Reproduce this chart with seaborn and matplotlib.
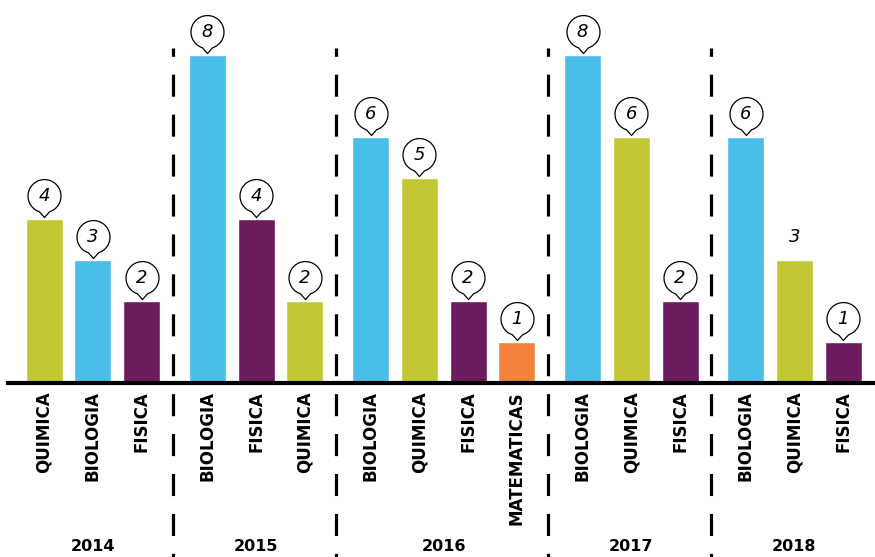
import numpy as np
import pandas as pd
import matplotlib
matplotlib.use('Agg')
import matplotlib.pyplot as plt
from matplotlib.path import Path
import seaborn as sns

# ---- data ----
years    = ['2014', '2015', '2016', '2017', '2018']
group    = [0, 0, 0, 1, 1, 1, 2, 2, 2, 2, 3, 3, 3, 4, 4, 4]
subjects = ['QUIMICA', 'BIOLOGIA', 'FISICA',
            'BIOLOGIA', 'FISICA', 'QUIMICA',
            'BIOLOGIA', 'QUIMICA', 'FISICA', 'MATEMATICAS',
            'BIOLOGIA', 'QUIMICA', 'FISICA',
            'BIOLOGIA', 'QUIMICA', 'FISICA']
values   = [4, 3, 2,
            8, 4, 2,
            6, 5, 2, 1,
            8, 6, 2,
            6, 3, 1]
bubble   = [True] * 14 + [False, True]   # 2018 QUIMICA has no bubble

palette = {'BIOLOGIA': '#48BEE8', 'QUIMICA': '#C1C833',
           'FISICA': '#6A1C5E', 'MATEMATICAS': '#F2833A'}

# ---- layout ----
gap = 0.345
pos = np.arange(len(values)) + np.array(group) * gap
df = pd.DataFrame({'pos': pos, 'subject': subjects, 'value': values})

sns.set_style('white')
plt.rcParams['font.family'] = ['DejaVu Sans']
plt.rcParams['text.color'] = 'black'
plt.rcParams['xtick.color'] = 'black'

W, H = 875, 557
fig = plt.figure(figsize=(W / 100, H / 100), dpi=100)
ax = fig.add_axes([8 / W, 1 - 383 / H, 1 - 8 / W, 383 / H])

sns.barplot(data=df, x='pos', y='value', hue='subject', palette=palette,
            native_scale=True, dodge=False, width=0.76, errorbar=None,
            legend=False, saturation=1, ax=ax)

ax.set_xlim(-0.74, pos[-1] + 0.65)
ax.set_ylim(0, 383 / 41)
ax.set_xlabel(''); ax.set_ylabel('')
ax.set_yticks([])
ax.set_xticks(pos)
ax.set_xticklabels(subjects, rotation=90, fontweight='bold', fontsize=12,
                   color='black')
ax.tick_params(axis='x', length=0, pad=6)
for s in ['top', 'left', 'right']:
    ax.spines[s].set_visible(False)
ax.spines['bottom'].set_linewidth(3)
ax.spines['bottom'].set_color('black')
ax.spines['bottom'].set_zorder(5)

# dashed separators between years
grp = np.array(group)
for g in range(len(years) - 1):
    last = pos[grp == g][-1]
    first = pos[grp == g + 1][0]
    xm = (last + first) / 2 - 0.04
    ax.plot([xm, xm], [0.875, -0.46], transform=ax.get_xaxis_transform(),
            color='black', lw=2.3, linestyle=(4.3, (6.9, 5.6)),
            clip_on=False, zorder=4, dash_capstyle='butt')

# year labels
for g, yr in enumerate(years):
    xc = pos[grp == g].mean()
    ax.text(xc, -0.428, yr, transform=ax.get_xaxis_transform(),
            ha='center', va='center', fontsize=11.5, fontweight='bold',
            color='black')

# speech-bubble marker: circle with a small pointer, tip at origin
r_px = 16.5
th1, th2 = -72.0, 252.0
arc = Path.arc(th1, th2)
tip_y = -1.3
lift = 1.42
verts = np.vstack([arc.vertices, [[0, tip_y]], [arc.vertices[0]]])
codes = np.concatenate([arc.codes, [Path.LINETO, Path.CLOSEPOLY]])
verts = verts + np.array([0, lift])
bubble_path = Path(verts, codes)
r_pt = r_px * 72 / 100
ms = 2 * np.max(np.abs(verts)) * r_pt
text_off = lift * r_pt

for x, v, b in zip(pos, values, bubble):
    if b:
        ax.plot([x], [v], marker=bubble_path, ms=ms, mfc='white',
                mec='black', mew=0.9, ls='none', clip_on=False, zorder=6)
    ax.annotate(str(v), (x, v), xytext=(0, text_off),
                textcoords='offset points', ha='center', va='center',
                fontsize=13, fontstyle='italic', fontweight='normal',
                family=['DejaVu Sans'], color='black', zorder=7,
                annotation_clip=False)

fig.savefig('out.png', dpi=100)
